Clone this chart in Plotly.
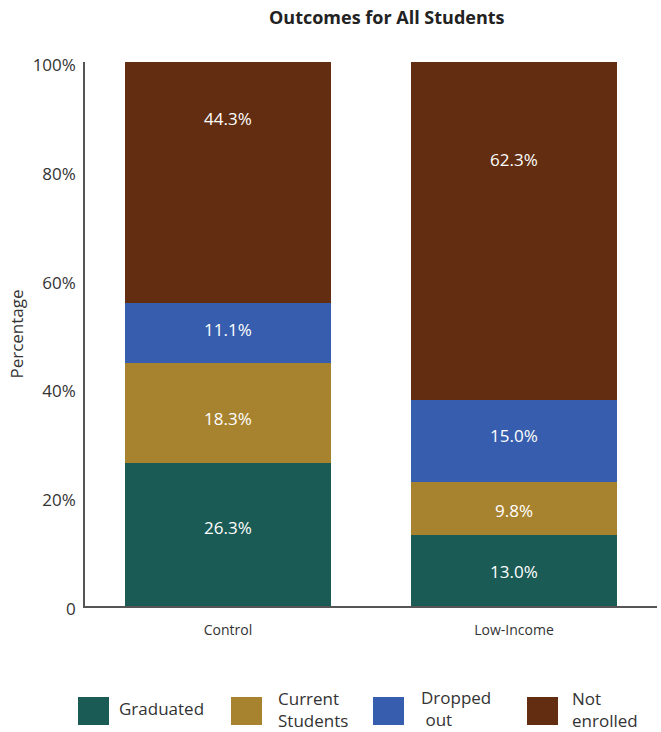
import plotly.graph_objects as go

# Data
groups = ["Control", "Low-Income"]
series_names = ["Graduated", "Current Students", "Dropped out", "Not enrolled"]
legend_labels = ["Graduated", "Current<br>Students", "Dropped<br> out", "Not<br>enrolled"]
graduated = [26.3, 13.0]
current_students = [18.3, 9.8]
dropped_out = [11.1, 15.0]
not_enrolled = [44.3, 62.3]
y_tick_vals = [0, 20, 40, 60, 80, 100]
y_tick_text = ["0", "20%", "40%", "60%", "80%", "100%"]

colors = ["#1b5b55", "#a8832f", "#375eae", "#622d10"]
series_values = [graduated, current_students, dropped_out, not_enrolled]

# vertical nudge (in axis units) of each value label from its segment centre,
# one row per series, one column per group
label_nudge = [[1.3, -0.1], [-0.9, -0.4], [0.7, 1.0], [11.8, 13.1]]

W, H = 661, 732
M_L, M_R, M_T, M_B = 85, 4, 62, 126
FONT = "Open Sans"
TEXT = "#333333"

fig = go.Figure()
for name, vals, col in zip(series_names, series_values, colors):
    fig.add_trace(go.Bar(
        x=groups, y=vals, name=name,
        marker=dict(color=col, line=dict(width=0)),
        width=0.72, hoverinfo="x+y+name",
    ))

# value labels on the stacked segments
base = [0.0 for _ in groups]
for vals, nudge in zip(series_values, label_nudge):
    for i, g in enumerate(groups):
        fig.add_annotation(x=g, y=base[i] + vals[i] / 2 + nudge[i],
                           text=f"{vals[i]:.1f}%", showarrow=False,
                           xanchor="center", yanchor="middle",
                           font=dict(family=FONT, size=17, color="white"))
        base[i] += vals[i]

# pixel -> paper conversion helpers for the hand-drawn legend
pw = W - M_L - M_R
ph = H - M_T - M_B
def px(x):
    return (x - M_L) / pw
def py(y):
    return (H - M_B - y) / ph

swatch_x = [78, 231, 373, 527]
text_x = [118, 277, 420, 571]
text_y = [708, 709, 708, 709]
for sx, tx, ty, col, lab in zip(swatch_x, text_x, text_y, colors, legend_labels):
    fig.add_shape(type="rect", xref="paper", yref="paper",
                  x0=px(sx), x1=px(sx + 31), y0=py(697), y1=py(725),
                  fillcolor=col, line=dict(width=0))
    fig.add_annotation(xref="paper", yref="paper", x=px(tx), y=py(ty),
                       xanchor="left", yanchor="middle", showarrow=False,
                       text=lab, align="left", borderpad=0,
                       font=dict(family=FONT, size=17, color=TEXT))

fig.add_annotation(xref="paper", yref="paper", x=px(387), y=py(17),
                   xanchor="center", yanchor="middle", showarrow=False,
                   text="<b>Outcomes for All Students</b>",
                   font=dict(family=FONT, size=18, color="#222222"))

fig.update_layout(
    width=W, height=H,
    margin=dict(l=M_L, r=M_R, t=M_T, b=M_B),
    barmode="stack",
    showlegend=False,
    plot_bgcolor="white", paper_bgcolor="white",
    font=dict(family=FONT, color=TEXT),
)
fig.update_xaxes(
    showline=True, linecolor="#555555", linewidth=1.5,
    showgrid=False, ticks="", ticklabelstandoff=10,
    tickfont=dict(family=FONT, size=14, color=TEXT),
    range=[-0.5, 1.5],
)
fig.update_yaxes(
    range=[0, 100], showline=True, linecolor="#555555", linewidth=1.5,
    showgrid=False, zeroline=False, ticks="",
    tickvals=y_tick_vals, ticktext=y_tick_text,
    ticklabelstandoff=4, ticklabelshift=3,
    tickfont=dict(family=FONT, size=17, color=TEXT),
    title=dict(text="Percentage", font=dict(family=FONT, size=17, color=TEXT), standoff=5),
)

fig.write_html("out.html")
